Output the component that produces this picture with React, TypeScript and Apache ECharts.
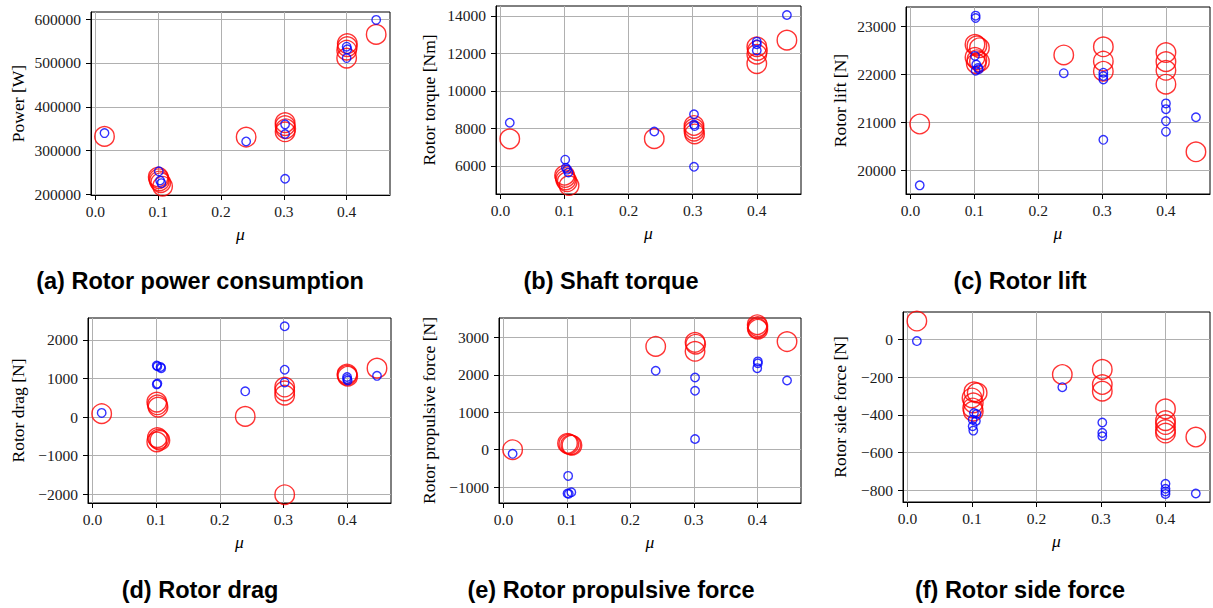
import { useEffect, useRef } from "react";
import * as echarts from "echarts";

// Advance ratio axis shared by all six panels
const MU_MIN = -0.007;
const MU_MAX = 0.469;
const MU_TICKS = [0, 0.1, 0.2, 0.3, 0.4];

// (a) Rotor power consumption [W]
const powerBlue: [number, number][] = [
  [0.0145, 340000], [0.101, 253000], [0.103, 232000], [0.105, 226000],
  [0.24, 321000], [0.302, 360000], [0.302, 338000], [0.302, 236000],
  [0.4, 537000], [0.401, 531000], [0.4, 511000], [0.447, 598000],
];
const powerRed: [number, number][] = [
  [0.0145, 332500], [0.1, 240000], [0.101, 236000], [0.102, 231000], [0.104, 227000], [0.107, 219000],
  [0.24, 331000], [0.302, 364000], [0.302, 357000], [0.303, 350000], [0.302, 343000],
  [0.401, 544000], [0.401, 537000], [0.4, 529000], [0.4, 511000], [0.447, 565000],
];
const powerTicks = [200000, 300000, 400000, 500000, 600000];

// (b) Shaft torque [Nm]
const torqueBlue: [number, number][] = [
  [0.0145, 8300], [0.101, 6330], [0.102, 5900], [0.104, 5800], [0.106, 5650],
  [0.24, 7830], [0.302, 8750], [0.302, 8200], [0.303, 8120], [0.302, 5950],
  [0.4, 12620], [0.4, 12480], [0.4, 12150], [0.447, 14040],
];
const torqueRed: [number, number][] = [
  [0.0145, 7440], [0.1, 5500], [0.101, 5380], [0.102, 5250], [0.104, 5150], [0.107, 4950],
  [0.24, 7450], [0.302, 8150], [0.302, 8000], [0.302, 7850], [0.303, 7700],
  [0.4, 12350], [0.401, 12150], [0.4, 11950], [0.4, 11450], [0.447, 12700],
];
const torqueTicks = [6000, 8000, 10000, 12000, 14000];

// (c) Rotor lift [N]
const liftBlue: [number, number][] = [
  [0.0145, 19680], [0.102, 23220], [0.102, 23170], [0.101, 22380], [0.103, 22200],
  [0.106, 22130], [0.107, 22100], [0.102, 22070], [0.24, 22020],
  [0.302, 22030], [0.302, 21960], [0.302, 21890], [0.302, 20630],
  [0.4, 21390], [0.4, 21270], [0.4, 21020], [0.4, 20800], [0.447, 21100],
];
const liftRed: [number, number][] = [
  [0.0145, 20960], [0.101, 22620], [0.104, 22590], [0.108, 22550], [0.101, 22350],
  [0.104, 22300], [0.108, 22260], [0.103, 22220], [0.24, 22400],
  [0.302, 22570], [0.302, 22270], [0.302, 22060],
  [0.4, 22450], [0.4, 22260], [0.4, 22080], [0.4, 21790], [0.447, 20380],
];
const liftTicks = [20000, 21000, 22000, 23000];

// (d) Rotor drag [N]
const dragBlue: [number, number][] = [
  [0.0145, 110], [0.101, 1340], [0.102, 1320], [0.107, 1300], [0.108, 1270],
  [0.102, 870], [0.101, 850], [0.24, 670], [0.302, 2355], [0.302, 1230], [0.302, 900],
  [0.4, 1040], [0.4, 990], [0.401, 950], [0.447, 1070],
];
const dragRed: [number, number][] = [
  [0.0145, 90], [0.101, 390], [0.102, 320], [0.103, 260], [0.102, -530], [0.104, -570],
  [0.106, -600], [0.101, -640], [0.24, 20], [0.302, 780], [0.302, 680], [0.302, 570],
  [0.302, -2010], [0.4, 1120], [0.4, 1090], [0.401, 1060], [0.447, 1270],
];
const dragTicks = [-2000, -1000, 0, 1000, 2000];

// (e) Rotor propulsive force [N]
const propBlue: [number, number][] = [
  [0.0145, -110], [0.102, -700], [0.101, -1170], [0.103, -1180], [0.107, -1140],
  [0.24, 2110], [0.302, 1930], [0.302, 1575], [0.302, 285],
  [0.401, 2360], [0.401, 2310], [0.4, 2180], [0.447, 1850],
];
const propRed: [number, number][] = [
  [0.0145, 0], [0.101, 170], [0.103, 150], [0.106, 130], [0.108, 120],
  [0.24, 2760], [0.302, 2870], [0.303, 2820], [0.302, 2630],
  [0.4, 3340], [0.401, 3290], [0.4, 3250], [0.401, 3220], [0.447, 2890],
];
const propTicks = [-1000, 0, 1000, 2000, 3000];

// (f) Rotor side force [N]
const sideBlue: [number, number][] = [
  [0.0145, -9], [0.103, -390], [0.107, -395], [0.101, -425], [0.106, -432],
  [0.101, -460], [0.102, -483], [0.24, -253], [0.302, -440], [0.302, -495], [0.302, -513],
  [0.4, -765], [0.4, -791], [0.4, -805], [0.4, -818], [0.447, -816],
];
const sideRed: [number, number][] = [
  [0.0145, 97], [0.103, -278], [0.108, -283], [0.1, -310], [0.102, -336], [0.101, -363],
  [0.102, -380], [0.24, -186], [0.302, -159], [0.302, -239], [0.302, -274],
  [0.4, -368], [0.4, -430], [0.4, -451], [0.4, -478], [0.4, -496], [0.447, -517],
];
const sideTicks = [-800, -600, -400, -200, 0];

const SERIF = '"Liberation Serif", "Times New Roman", serif';
const SANS = '"Liberation Sans", Arial, Helvetica, sans-serif';

type Panel = {
  caption: string;
  yName: string;
  blue: [number, number][];
  red: [number, number][];
  ticks: number[];
  yMin: number;
  yMax: number;
  box: { left: number; top: number; width: number; height: number };
  yNameX: number;
  captionX: number;
  captionY: number;
};

const panels: Panel[] = [
  {
    caption: "(a) Rotor power consumption", yName: "Power [W]",
    blue: powerBlue, red: powerRed, ticks: powerTicks, yMin: 199000, yMax: 616000,
    box: { left: 91, top: 12, width: 299, height: 183 }, yNameX: 18, captionX: 200, captionY: 281,
  },
  {
    caption: "(b) Shaft torque", yName: "Rotor torque [Nm]",
    blue: torqueBlue, red: torqueRed, ticks: torqueTicks, yMin: 4500, yMax: 14520,
    box: { left: 496, top: 6, width: 305, height: 188 }, yNameX: 429, captionX: 611, captionY: 281,
  },
  {
    caption: "(c) Rotor lift", yName: "Rotor lift [N]",
    blue: liftBlue, red: liftRed, ticks: liftTicks, yMin: 19500, yMax: 23400,
    box: { left: 906, top: 7, width: 304, height: 187 }, yNameX: 840, captionX: 1020, captionY: 281,
  },
  {
    caption: "(d) Rotor drag", yName: "Rotor drag [N]",
    blue: dragBlue, red: dragRed, ticks: dragTicks, yMin: -2225, yMax: 2570,
    box: { left: 88, top: 318, width: 303, height: 185 }, yNameX: 18, captionX: 200, captionY: 589.5,
  },
  {
    caption: "(e) Rotor propulsive force", yName: "Rotor propulsive force [N]",
    blue: propBlue, red: propRed, ticks: propTicks, yMin: -1425, yMax: 3520,
    box: { left: 499, top: 318, width: 302, height: 185 }, yNameX: 429, captionX: 611, captionY: 589.5,
  },
  {
    caption: "(f) Rotor side force", yName: "Rotor side force [N]",
    blue: sideBlue, red: sideRed, ticks: sideTicks, yMin: -861, yMax: 145,
    box: { left: 903, top: 312, width: 307, height: 190 }, yNameX: 840, captionX: 1020, captionY: 589.5,
  },
];

const tickLabelStyle = {
  fontFamily: SERIF,
  fontSize: 15.5,
  color: "#1a1a1a",
};

const minusSign = (v: number) => String(v).replace("-", "\u2212");

function buildOption() {
  const grid = panels.map((p) => ({
    ...p.box,
    show: true,
    borderColor: "#000",
    borderWidth: 1,
    backgroundColor: "transparent",
  }));

  const xAxis = panels.map((_, i) => ({
    type: "value",
    gridIndex: i,
    min: MU_MIN,
    max: MU_MAX,
    axisLine: { show: true, onZero: false, lineStyle: { color: "#000", width: 1 } },
    axisTick: { show: true, inside: false, length: 5, customValues: MU_TICKS, lineStyle: { color: "#000", width: 1 } },
    axisLabel: { ...tickLabelStyle, margin: 8, customValues: MU_TICKS, formatter: (v: number) => v.toFixed(1) },
    splitLine: { show: true, lineStyle: { color: "#b0b0b0", width: 1 } },
  }));

  const yAxis = panels.map((p, i) => ({
    type: "value",
    gridIndex: i,
    min: p.yMin,
    max: p.yMax,
    axisLine: { show: true, onZero: false, lineStyle: { color: "#000", width: 1 } },
    axisTick: { show: true, inside: false, length: 5, customValues: p.ticks, lineStyle: { color: "#000", width: 1 } },
    axisLabel: { ...tickLabelStyle, margin: 10, customValues: p.ticks, formatter: minusSign },
    splitLine: { show: true, lineStyle: { color: "#b0b0b0", width: 1 } },
  }));

  const series: any[] = [];
  panels.forEach((p, i) => {
    series.push({
      type: "scatter",
      xAxisIndex: i,
      yAxisIndex: i,
      data: p.red,
      symbol: "circle",
      symbolSize: 19.5,
      silent: true,
      itemStyle: { color: "rgba(0,0,0,0)", borderColor: "#ff0000", borderWidth: 1.4 },
    });
    series.push({
      type: "scatter",
      xAxisIndex: i,
      yAxisIndex: i,
      data: p.blue,
      symbol: "circle",
      symbolSize: 8.5,
      silent: true,
      itemStyle: { color: "rgba(0,0,0,0)", borderColor: "#0000ff", borderWidth: 1.4 },
    });
  });

  const textEl = (text: string, x: number, y: number, font: string, rotation = 0) => ({
    type: "text",
    x,
    y,
    rotation,
    silent: true,
    style: {
      text,
      font,
      fill: "#000",
      align: "center",
      verticalAlign: "middle",
      textAlign: "center",
      textVerticalAlign: "middle",
    },
  });

  const elements: any[] = [];
  panels.forEach((p) => {
    const cx = p.box.left + p.box.width / 2;
    const cy = p.box.top + p.box.height / 2;
    const bottom = p.box.top + p.box.height;
    elements.push(textEl(p.yName, p.yNameX, cy, `17.5px ${SERIF}`, Math.PI / 2));
    elements.push(textEl("\u03bc", cx, bottom + 39, `italic 17.5px ${SERIF}`));
    elements.push(textEl(p.caption, p.captionX, p.captionY, `bold 23.5px ${SANS}`));
  });

  return {
    animation: false,
    backgroundColor: "#fff",
    grid,
    xAxis,
    yAxis,
    series,
    graphic: { elements },
  };
}

export default function App() {
  const ref = useRef<HTMLDivElement>(null);

  useEffect(() => {
    if (!ref.current) return;
    const chart = echarts.init(ref.current, undefined, { renderer: "svg" });
    chart.setOption(buildOption() as any);
    return () => chart.dispose();
  }, []);

  return (
    <div
      ref={ref}
      style={{ position: "fixed", left: 0, top: 0, width: 1213, height: 608, background: "#fff" }}
    />
  );
}
